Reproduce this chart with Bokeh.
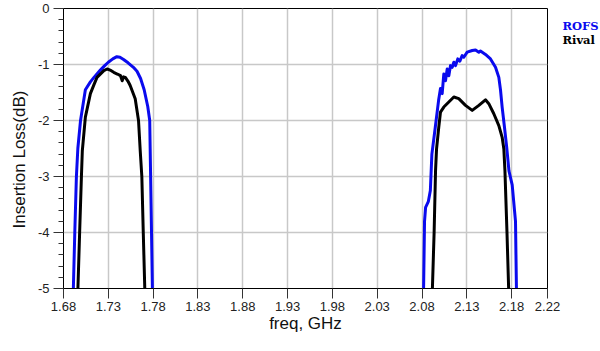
import math
from bokeh.plotting import figure
from bokeh.models import (FixedTicker, SingleIntervalTicker, PrintfTickFormatter,
                          Label, Range1d, Title)
from bokeh.embed import file_html
from bokeh.resources import INLINE

# ---- data ----
x_ticks = [1.68, 1.73, 1.78, 1.83, 1.88, 1.93, 1.98, 2.03, 2.08, 2.13, 2.18, 2.22]
y_ticks = [0, -1, -2, -3, -4, -5]

rofs_band1_freq = [1.6905, 1.6926, 1.6944, 1.6960, 1.6990, 1.7044, 1.7100, 1.7140, 1.7211,
                   1.7260, 1.7300, 1.7350, 1.7395, 1.7430, 1.7470, 1.7520, 1.7580, 1.7620,
                   1.7660, 1.7700, 1.7740, 1.7762, 1.7772, 1.7782, 1.7795]
rofs_band1_db = [-5.3, -4.0, -3.0, -2.5, -2.0, -1.45, -1.31, -1.23, -1.10,
                 -1.02, -0.96, -0.90, -0.86, -0.87, -0.91, -0.97, -1.05, -1.12,
                 -1.25, -1.45, -1.75, -2.0, -3.0, -4.0, -5.3]

rival_band1_freq = [1.6955, 1.6980, 1.7000, 1.7010, 1.7044, 1.7100, 1.7140, 1.7174, 1.7250,
                    1.7287, 1.7320, 1.7360, 1.7400, 1.7436, 1.7455, 1.7470, 1.7490, 1.7520,
                    1.7544, 1.7600, 1.7637, 1.7656, 1.7674, 1.7690, 1.7712]
rival_band1_db = [-5.3, -4.0, -3.0, -2.54, -1.94, -1.52, -1.36, -1.23, -1.11,
                  -1.08, -1.10, -1.14, -1.17, -1.20, -1.29, -1.22, -1.23, -1.30,
                  -1.375, -1.61, -2.0, -2.54, -3.0, -4.0, -5.3]

rofs_band2_freq = [2.0815, 2.0828, 2.0840, 2.0870, 2.0893, 2.0910, 2.0948, 2.0985, 2.1006,
                   2.1025, 2.1043, 2.1062, 2.1081, 2.1099, 2.1118, 2.1137, 2.1155, 2.1174,
                   2.1199, 2.1222, 2.1248, 2.1266, 2.1304, 2.1360, 2.1397, 2.1434, 2.1452,
                   2.1508, 2.1564, 2.1620, 2.1657, 2.1676, 2.1694, 2.1720, 2.1745, 2.1770,
                   2.1806, 2.1843, 2.1856]
rofs_band2_db = [-5.3, -3.8, -3.55, -3.45, -3.25, -2.6, -2.12, -1.64, -1.43,
                 -1.52, -1.17, -1.29, -1.08, -1.20, -1.02, -1.05, -0.96, -1.02,
                 -0.90, -0.94, -0.84, -0.87, -0.78, -0.75, -0.74, -0.78, -0.76,
                 -0.82, -0.90, -1.05, -1.23, -1.46, -1.76, -2.12, -2.48, -2.9,
                 -3.15, -3.8, -5.3]

rival_band2_freq = [2.0910, 2.0935, 2.0951, 2.0962, 2.0987, 2.1006, 2.1043, 2.1099, 2.1155,
                    2.1210, 2.1285, 2.1360, 2.1434, 2.1508, 2.1545, 2.1601, 2.1657, 2.1694,
                    2.1713, 2.1725, 2.1748, 2.1772]
rival_band2_db = [-5.3, -4.0, -2.89, -2.51, -2.12, -1.85, -1.76, -1.67, -1.58,
                  -1.61, -1.73, -1.82, -1.73, -1.63, -1.70, -1.88, -2.09, -2.30,
                  -2.51, -2.89, -4.0, -5.3]

series_names = ["ROFS", "Rival"]
BLUE = "#0a0aee"
BLACK = "#000000"
FONT = "Liberation Sans"

p = figure(width=600, height=351, output_backend="svg", toolbar_location=None,
           x_range=Range1d(1.68, 2.22), y_range=Range1d(-5, 0),
           min_border_left=63, min_border_right=53, min_border_top=8, min_border_bottom=63)
p.background_fill_color = "white"
p.border_fill_color = "white"
p.outline_line_color = "black"
p.outline_line_width = 1

for fx, fy, c in [(rofs_band1_freq, rofs_band1_db, BLUE),
                  (rofs_band2_freq, rofs_band2_db, BLUE),
                  (rival_band1_freq, rival_band1_db, BLACK),
                  (rival_band2_freq, rival_band2_db, BLACK)]:
    p.line(fx, fy, line_color=c, line_width=3, line_join="round")

# axes
p.xaxis.ticker = FixedTicker(ticks=x_ticks, minor_ticks=[])
p.xaxis.formatter = PrintfTickFormatter(format="%.2f")
p.yaxis.ticker = SingleIntervalTicker(interval=1, num_minor_ticks=5)
p.yaxis.formatter = PrintfTickFormatter(format="%d")
for ax in (p.xaxis[0], p.yaxis[0]):
    ax.axis_line_color = "black"
    ax.axis_line_width = 1
    ax.major_tick_line_color = "#333333"
    ax.minor_tick_line_color = "#333333"
    ax.major_tick_in = 0
    ax.major_tick_out = 10
    ax.minor_tick_in = 0
    ax.minor_tick_out = 5
    ax.major_label_text_font = FONT
    ax.major_label_text_font_size = "13px"
    ax.major_label_text_color = "#222222"
p.xaxis.major_label_standoff = 3
p.yaxis.major_label_standoff = 4

p.xaxis.axis_label = "freq, GHz"
p.xaxis.axis_label_text_font = FONT
p.xaxis.axis_label_text_font_size = "17px"
p.xaxis.axis_label_text_font_style = "normal"
p.xaxis.axis_label_text_color = "#111111"
p.xaxis.axis_label_standoff = 0

p.xgrid.ticker = FixedTicker(ticks=x_ticks)
p.grid.grid_line_color = "#c8c8c8"
p.grid.grid_line_width = 1.5

# y axis title in the left panel
p.add_layout(Title(text="Insertion Loss(dB)", align="left", offset=60,
                   text_font=FONT, text_font_size="17px", text_font_style="normal",
                   text_color="#111111", standoff=12), "left")

# legend texts: ROFS in the right panel, Rival in the bottom panel (drawn at top right)
p.add_layout(Label(x=15, y=263, x_units="screen", y_units="screen",
                   text=series_names[0], text_font="DejaVu Serif", text_font_style="bold",
                   text_font_size="11.5px", text_color=BLUE, text_baseline="alphabetic"),
             "right")
p.add_layout(Label(x=499, y=310, x_units="screen", y_units="screen",
                   text=series_names[1], text_font="DejaVu Serif", text_font_style="bold",
                   text_font_size="11.5px", text_color=BLACK, text_baseline="alphabetic"),
             "below")

open("out.html", "w").write(file_html(p, INLINE))
